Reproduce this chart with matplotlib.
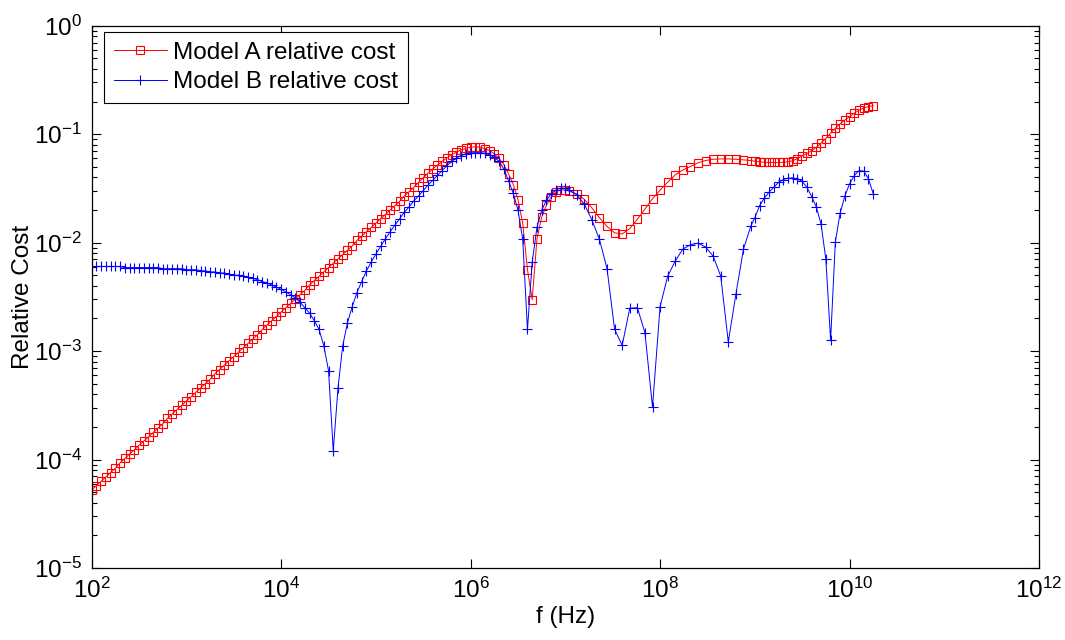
import numpy as np
import matplotlib
matplotlib.use("Agg")
import matplotlib.pyplot as plt
from matplotlib.ticker import LogLocator, NullLocator, LogFormatterSciNotation

plt.rcParams['font.family'] = ['Liberation Sans', 'DejaVu Sans']
plt.rcParams['mathtext.fontset'] = 'custom'
plt.rcParams['mathtext.rm'] = 'Liberation Sans'
plt.rcParams['mathtext.it'] = 'Liberation Sans:italic'
plt.rcParams['mathtext.bf'] = 'Liberation Sans:bold'
plt.rcParams['mathtext.default'] = 'regular'

# ---- frequency grid (Hz): dense below 1e7, coarser 1e7..1e9, dense above ----
freq_low = np.logspace(2, 7, 101)
freq_mid = np.logspace(7.04, 8.96, 25)
freq_high = np.logspace(9, 10.25, 26)
freq = np.concatenate([freq_low, freq_mid, freq_high])

# ---- relative cost as log10 values ----
model_a_log10_low = [
    -4.28, -4.24, -4.20, -4.16, -4.12, -4.08, -4.03, -3.99, -3.95, -3.91,
    -3.87, -3.83, -3.79, -3.75, -3.71, -3.67, -3.62, -3.58, -3.54, -3.50,
    -3.46, -3.42, -3.38, -3.34, -3.30, -3.26, -3.21, -3.17, -3.13, -3.09,
    -3.05, -3.01, -2.97, -2.93, -2.89, -2.85, -2.80, -2.76, -2.72, -2.68,
    -2.64, -2.60, -2.56, -2.52, -2.48, -2.44, -2.39, -2.35, -2.31, -2.27,
    -2.23, -2.19, -2.15, -2.11, -2.07, -2.03, -1.98, -1.94, -1.90, -1.86,
    -1.82, -1.78, -1.74, -1.70, -1.66, -1.62, -1.57, -1.53, -1.49, -1.445,
    -1.40, -1.36, -1.32, -1.285, -1.25, -1.22, -1.19, -1.165, -1.145, -1.13,
    -1.12, -1.117, -1.12, -1.133, -1.151, -1.182, -1.222, -1.28, -1.366, -1.464,
    -1.605, -1.82, -2.25, -2.526, -1.968, -1.765, -1.655, -1.58, -1.53, -1.513,
    -1.515,
]
model_a_log10_mid = [
    -1.525, -1.55, -1.60, -1.68, -1.77, -1.85, -1.91, -1.92, -1.87, -1.785,
    -1.69, -1.595, -1.515, -1.443, -1.375, -1.33, -1.298, -1.264, -1.243, -1.231,
    -1.228, -1.228, -1.231, -1.237, -1.243,
]
model_a_log10_high = [
    -1.249, -1.255, -1.259, -1.261, -1.261, -1.261, -1.259, -1.255, -1.245, -1.225,
    -1.20, -1.178, -1.152, -1.12, -1.082, -1.04, -0.99, -0.945, -0.905, -0.87,
    -0.84, -0.805, -0.78, -0.758, -0.745, -0.737,
]

model_b_log10_low = [
    -2.22, -2.22, -2.22, -2.22, -2.22, -2.22, -2.22, -2.23, -2.23, -2.23,
    -2.23, -2.23, -2.23, -2.23, -2.23, -2.24, -2.24, -2.24, -2.24, -2.24,
    -2.25, -2.25, -2.25, -2.26, -2.26, -2.27, -2.27, -2.28, -2.28, -2.29,
    -2.30, -2.30, -2.31, -2.32, -2.33, -2.34, -2.36, -2.37, -2.39, -2.41,
    -2.43, -2.455, -2.48, -2.51, -2.55, -2.60, -2.65, -2.72, -2.80, -2.95,
    -3.18, -3.92, -3.34, -2.95, -2.74, -2.59, -2.46, -2.36, -2.26, -2.18,
    -2.105, -2.035, -1.965, -1.90, -1.84, -1.78, -1.72, -1.67, -1.615, -1.57,
    -1.52, -1.47, -1.425, -1.38, -1.335, -1.29, -1.25, -1.22, -1.197, -1.182,
    -1.173, -1.17, -1.17, -1.176, -1.19, -1.213, -1.25, -1.32, -1.43, -1.545,
    -1.70, -1.97, -2.80, -2.18, -1.86, -1.70, -1.61, -1.55, -1.515, -1.495,
    -1.50,
]
model_b_log10_mid = [
    -1.515, -1.56, -1.645, -1.79, -1.97, -2.24, -2.80, -2.947, -2.605, -2.60,
    -2.83, -3.515, -2.59, -2.31, -2.17, -2.06, -2.02, -2.005, -2.04, -2.124,
    -2.308, -2.916, -2.477, -2.06, -1.842,
]
model_b_log10_high = [
    -1.77, -1.66, -1.59, -1.535, -1.49, -1.445, -1.418, -1.406, -1.403, -1.412,
    -1.435, -1.49, -1.575, -1.673, -1.832, -2.155, -2.90, -1.995, -1.728, -1.571,
    -1.458, -1.381, -1.335, -1.341, -1.412, -1.55,
]

model_a = 10.0 ** np.array(model_a_log10_low + model_a_log10_mid + model_a_log10_high)
model_b = 10.0 ** np.array(model_b_log10_low + model_b_log10_mid + model_b_log10_high)

x_ticks = [1e2, 1e4, 1e6, 1e8, 1e10, 1e12]
labels = ['Model A relative cost', 'Model B relative cost']

fs = 17.5
fig = plt.figure(figsize=(10.65, 6.4), dpi=100)
ax = fig.add_axes([0.0861, 0.1125, 0.8895, 0.8473])

ax.loglog(freq, model_a, color='#ff0000', lw=0.7, marker='s', ms=5.8,
          mfc='none', mec='#ff0000', mew=0.8, label=labels[0])
ax.loglog(freq, model_b, color='#0000ff', lw=0.7, marker='+', ms=7,
          mew=0.8, label=labels[1])

ax.set_xlim(1e2, 1e12)
ax.set_ylim(1e-5, 1e0)
ax.set_xticks(x_ticks)
ax.xaxis.set_minor_locator(NullLocator())
ax.yaxis.set_major_locator(LogLocator(base=10, numticks=10))
ax.yaxis.set_minor_locator(LogLocator(base=10, subs=np.arange(2, 10), numticks=20))
ax.xaxis.set_major_formatter(LogFormatterSciNotation())
ax.yaxis.set_major_formatter(LogFormatterSciNotation())

ax.tick_params(which='both', direction='in', top=True, right=True,
               labelsize=fs, width=0.8, colors='black')
ax.tick_params(which='major', length=6.5, pad=7)
ax.tick_params(which='minor', length=3.6)
for s in ax.spines.values():
    s.set_linewidth(0.9)
    s.set_color('black')

ax.set_xlabel('f (Hz)', fontsize=fs, labelpad=2)
ax.set_ylabel('Relative Cost', fontsize=fs, labelpad=0)

leg = ax.legend(loc='upper left', bbox_to_anchor=(0.013, 0.988), borderaxespad=0,
                fontsize=fs, fancybox=False, edgecolor='black', framealpha=1,
                handlelength=2.2, handletextpad=0.25, borderpad=0.4,
                labelspacing=0.3, numpoints=1)
leg.get_frame().set_linewidth(0.8)

fig.savefig('out.png', dpi=100)
